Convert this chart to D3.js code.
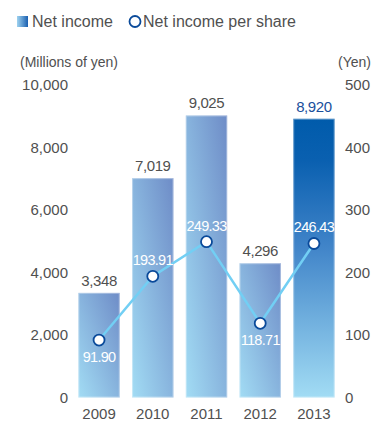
<!DOCTYPE html>
<html><head><meta charset="utf-8">
<script src="https://cdn.jsdelivr.net/npm/d3@7"></script>
<style>body{margin:0;background:#fff;}svg{display:block;font-family:"Liberation Sans",Arial,sans-serif;}</style>
</head><body><svg id="c" width="374" height="422"></svg>
<script>
const years = ["2009","2010","2011","2012","2013"];
const netIncome = [3348, 7019, 9025, 4296, 8920];
const netIncomeLabels = ["3,348","7,019","9,025","4,296","8,920"];
const perShare = [91.90, 193.91, 249.33, 118.71, 246.43];
const perShareLabels = ["91.90","193.91","249.33","118.71","246.43"];
const perShareLabelPos = ["below","above","above","below","above"];
const leftTicks = [0, 2000, 4000, 6000, 8000, 10000];
const rightTicks = [0, 100, 200, 300, 400, 500];

const svg = d3.select("#c");
const defs = svg.append("defs");
const g1 = defs.append("linearGradient").attr("id","gBar").attr("x1","0").attr("y1","1").attr("x2","1").attr("y2","0");
g1.append("stop").attr("offset","0").attr("stop-color","#a2dcf4");
g1.append("stop").attr("offset","1").attr("stop-color","#6e8cc7");
const g2 = defs.append("linearGradient").attr("id","gBar13").attr("x1","0").attr("y1","1").attr("x2","0").attr("y2","0");
g2.append("stop").attr("offset","0").attr("stop-color","#a2dcf4");
g2.append("stop").attr("offset","0.55").attr("stop-color","#3f83c8");
g2.append("stop").attr("offset","0.85").attr("stop-color","#0a60b0");
g2.append("stop").attr("offset","1").attr("stop-color","#005bab");
const g3 = defs.append("linearGradient").attr("id","gLeg").attr("x1","0").attr("y1","0").attr("x2","1").attr("y2","0");
g3.append("stop").attr("offset","0").attr("stop-color","#9fd3f0");
g3.append("stop").attr("offset","1").attr("stop-color","#1a5fb0");

const x = d3.scaleBand().domain(years).range([73, 340]).paddingInner(0.23).paddingOuter(0.1);
const yL = d3.scaleLinear().domain([0, 10000]).range([397.5, 85]);
const yR = d3.scaleLinear().domain([0, 500]).range([397.5, 85]);

const textCol = "#505050";
const ff = "Liberation Sans, Arial, sans-serif";

// legend
svg.append("rect").attr("x",17).attr("y",16).attr("width",11).attr("height",11).attr("fill","url(#gLeg)");
svg.append("text").attr("x",32).attr("y",27).attr("font-size",16).attr("fill",textCol).text("Net income");
svg.append("circle").attr("cx",135).attr("cy",21.5).attr("r",5.5).attr("fill","#fff").attr("stroke","#0a4a9a").attr("stroke-width",1.8);
svg.append("text").attr("x",143).attr("y",27).attr("font-size",16).attr("fill",textCol).text("Net income per share");

// unit labels
svg.append("text").attr("x",20).attr("y",67).attr("font-size",14).attr("fill",textCol).text("(Millions of yen)");
svg.append("text").attr("x",371).attr("y",67).attr("text-anchor","end").attr("font-size",14).attr("fill",textCol).text("(Yen)");

// left axis
const la = svg.append("g").attr("transform","translate(68,0)")
  .call(d3.axisLeft(yL).tickValues(leftTicks).tickSize(0).tickPadding(0).tickFormat(d3.format(",")));
la.select(".domain").remove();
la.selectAll("text").attr("font-size",15).attr("fill",textCol).attr("font-family",ff);

// right axis
const ra = svg.append("g").attr("transform","translate(345,0)")
  .call(d3.axisRight(yR).tickValues(rightTicks).tickSize(0).tickPadding(0));
ra.select(".domain").remove();
ra.selectAll("text").attr("font-size",15).attr("fill",textCol).attr("font-family",ff);

// bars
svg.selectAll("rect.bar").data(years).join("rect").attr("class","bar")
  .attr("x", d => x(d)).attr("width", x.bandwidth())
  .attr("y", (d,i) => yL(netIncome[i])).attr("height", (d,i) => yL(0) - yL(netIncome[i]))
  .attr("fill", (d,i) => i === 4 ? "url(#gBar13)" : "url(#gBar)");
svg.selectAll("rect.edge").data(years).join("rect").attr("class","edge")
  .attr("x", d => x(d)+0.5).attr("width", x.bandwidth()-1)
  .attr("y", (d,i) => yL(netIncome[i])+0.5).attr("height", (d,i) => yL(0) - yL(netIncome[i]) - 1)
  .attr("fill","none").attr("stroke","rgba(255,255,255,0.35)").attr("stroke-width",1);

// bar labels
svg.selectAll("text.bl").data(years).join("text").attr("class","bl")
  .attr("x", d => x(d) + x.bandwidth()/2).attr("y", (d,i) => yL(netIncome[i]) - 7)
  .attr("text-anchor","middle").attr("font-size",15).attr("letter-spacing",-0.4)
  .attr("fill", (d,i) => i === 4 ? "#1a4f9c" : textCol)
  .text((d,i) => netIncomeLabels[i]);

// year labels
svg.selectAll("text.yr").data(years).join("text").attr("class","yr")
  .attr("x", d => x(d) + x.bandwidth()/2).attr("y", 419)
  .attr("text-anchor","middle").attr("font-size",15).attr("fill",textCol).text(d => d);

// line
const line = d3.line().x((d,i) => x(years[i]) + x.bandwidth()/2).y(d => yR(d));
svg.append("path").datum(perShare).attr("d", line).attr("fill","none").attr("stroke","#72cff4").attr("stroke-width",2.5);
svg.selectAll("circle.pt").data(perShare).join("circle").attr("class","pt")
  .attr("cx", (d,i) => x(years[i]) + x.bandwidth()/2).attr("cy", d => yR(d)).attr("r",5.5)
  .attr("fill","#fff").attr("stroke","#0a4a9a").attr("stroke-width",1.8);
svg.selectAll("text.pl").data(perShare).join("text").attr("class","pl")
  .attr("x", (d,i) => x(years[i]) + x.bandwidth()/2)
  .attr("y", (d,i) => perShareLabelPos[i] === "below" ? yR(d) + 22 : yR(d) - 11)
  .attr("text-anchor","middle").attr("font-size",14.5).attr("letter-spacing",-0.7).attr("fill","#fff")
  .text((d,i) => perShareLabels[i]);
</script></body></html>
